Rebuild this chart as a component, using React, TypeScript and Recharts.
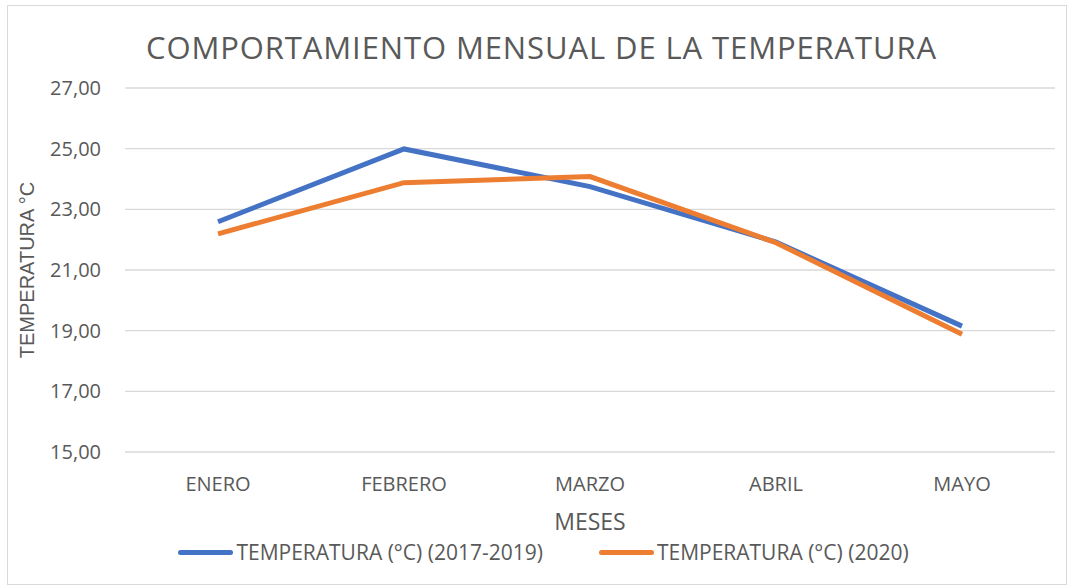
import { CartesianGrid, Legend, Line, LineChart, XAxis, YAxis } from "recharts"

const meses = ["ENERO", "FEBRERO", "MARZO", "ABRIL", "MAYO"]
const temp20172019 = [22.59, 24.99, 23.75, 21.92, 19.15]
const temp2020 = [22.19, 23.88, 24.08, 21.9, 18.88]
const yTicks = [15, 17, 19, 21, 23, 25, 27]

const data = meses.map((mes, i) => ({
    mes,
    historico: temp20172019[i],
    actual: temp2020[i],
}))

const FONT = "'Open Sans', sans-serif"
const GREY = "#595959"

const fmt = (v: number) => v.toFixed(2).replace(".", ",")

function renderLegend(props: any) {
    const { payload } = props
    return (
        <div
            style={{
                display: "flex",
                justifyContent: "center",
                gap: 56,
                paddingTop: 8,
                paddingLeft: 2,
                fontFamily: FONT,
                fontSize: 21,
                lineHeight: "28px",
                color: GREY,
            }}
        >
            {payload.map((entry: any) => (
                <div key={entry.value} style={{ display: "flex", alignItems: "center" }}>
                    <span style={{ display: "inline-block", width: 55, height: 5, borderRadius: 3, background: entry.color, marginRight: 3 }} />
                    <span>{entry.value}</span>
                </div>
            ))}
        </div>
    )
}

export default function App() {
    return (
        <div style={{ position: "absolute", left: 0, top: 0, width: 1068, height: 586, background: "#fff" }}>
            <div style={{ position: "absolute", left: 7, top: 5, width: 1060, height: 580, border: "1px solid #d9d9d9", boxSizing: "border-box" }} />
            <div
                style={{
                    position: "absolute",
                    left: 146,
                    top: 27,
                    fontFamily: FONT,
                    fontSize: 31,
                    lineHeight: "40px",
                    letterSpacing: 0.9,
                    color: GREY,
                    whiteSpace: "nowrap",
                }}
            >
                COMPORTAMIENTO MENSUAL DE LA TEMPERATURA
            </div>
            <LineChart
                width={1068}
                height={586}
                data={data}
                margin={{ top: 88, right: 13, bottom: 8, left: 30 }}
                style={{ position: "absolute", left: 0, top: 0 }}
            >
                <CartesianGrid vertical={false} stroke="#d9d9d9" strokeWidth={1.3} />
                <XAxis
                    dataKey="mes"
                    axisLine={false}
                    tickLine={false}
                    padding={{ left: 93, right: 93 }}
                    tick={{ fill: GREY, fontSize: 20, fontFamily: FONT }}
                    tickMargin={19}
                    height={78}
                    label={{ value: "MESES", position: "insideBottom", offset: 0, fill: GREY, fontSize: 23, fontFamily: FONT }}
                />
                <YAxis
                    domain={[15, 27]}
                    ticks={yTicks}
                    axisLine={false}
                    tickLine={false}
                    width={95}
                    tickFormatter={fmt}
                    tick={{ fill: GREY, fontSize: 20, fontFamily: FONT }}
                    tickMargin={18}
                    label={{
                        value: "TEMPERATURA °C",
                        angle: -90,
                        position: "insideLeft",
                        offset: -3,
                        fill: GREY,
                        fontSize: 20,
                        fontFamily: "'Liberation Sans', Arial, sans-serif",
                        style: { textAnchor: "middle" },
                    }}
                />
                <Legend verticalAlign="bottom" height={48} content={renderLegend} />
                <Line
                    type="linear"
                    dataKey="historico"
                    name="TEMPERATURA (°C) (2017-2019)"
                    stroke="#4472C4"
                    strokeWidth={5}
                    dot={false}
                    activeDot={false}
                    isAnimationActive={false}
                />
                <Line
                    type="linear"
                    dataKey="actual"
                    name="TEMPERATURA (°C) (2020)"
                    stroke="#ED7D31"
                    strokeWidth={5}
                    dot={false}
                    activeDot={false}
                    isAnimationActive={false}
                />
            </LineChart>
        </div>
    )
}
